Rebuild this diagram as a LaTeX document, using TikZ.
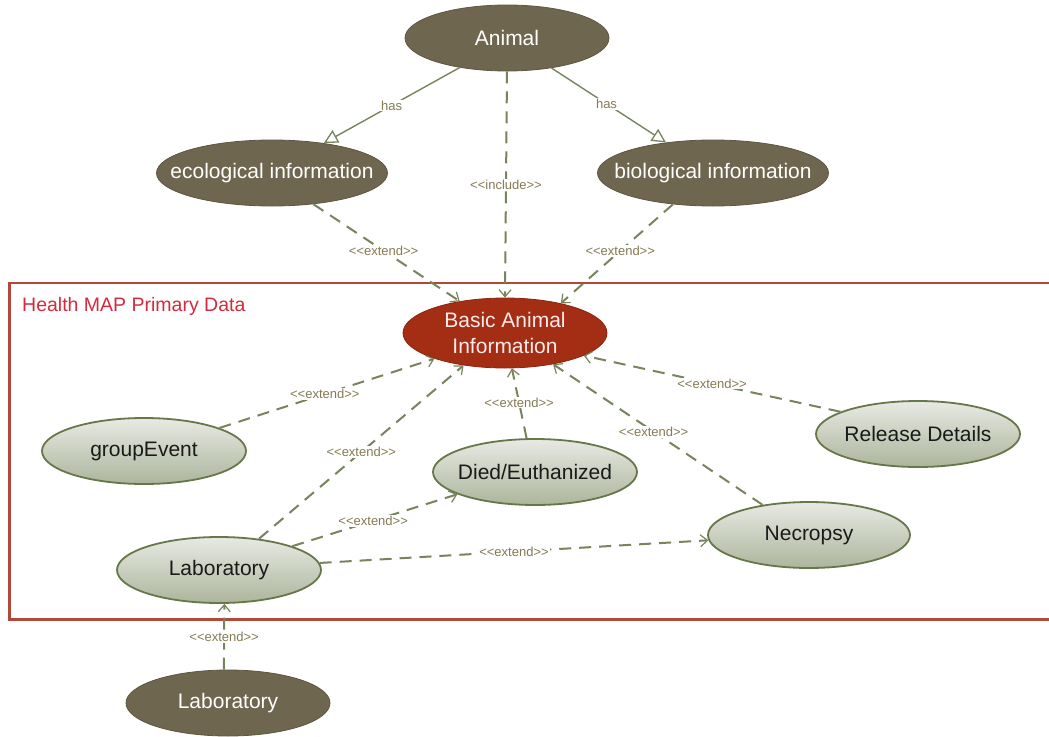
\documentclass[tikz,border=0pt]{standalone}
\usepackage{fontspec}
\setmainfont{Liberation Sans}
\usetikzlibrary{shapes.geometric,arrows.meta}
\definecolor{darkfill}{HTML}{6F6650}
\definecolor{darkline}{HTML}{5E5642}
\definecolor{redfill}{HTML}{A32E14}
\definecolor{redline}{HTML}{8C2510}
\definecolor{lighttop}{HTML}{E8EAE4}
\definecolor{lightbot}{HTML}{ACB59C}
\definecolor{lightline}{HTML}{66774A}
\definecolor{edgecol}{HTML}{76855C}
\definecolor{labelcol}{HTML}{857A52}
\definecolor{framecol}{HTML}{B2483A}
\definecolor{titlecol}{HTML}{D42A3C}
\definecolor{textdark}{HTML}{1A1A1A}
\newcommand{\stereo}[1]{{<}{<}#1{>}{>}}
% centred text that does not widen its ellipse
\newcommand{\uc}[1]{\makebox[0pt][c]{#1}}
\tikzset{
  usecase/.style={ellipse, minimum width=204pt, minimum height=66pt, inner sep=0pt,
    font=\fontsize{21}{26}\selectfont, align=center},
  darkcase/.style={usecase, fill=darkfill, draw=darkline, line width=0.8pt, text=white},
  redcase/.style={usecase, fill=redfill, draw=redline, line width=0.8pt, text=white!92!red,
    minimum height=70pt},
  lightcase/.style={usecase, top color=lighttop, bottom color=lightbot, draw=lightline,
    line width=1.8pt, text=textdark},
  rel/.style={draw=edgecol, line width=2pt},
  extendrel/.style={rel, dash pattern=on 12pt off 8pt, -{Straight Barb[length=7pt,width=12pt,line width=1.2pt]}},
  hasrel/.style={rel, line width=1.4pt, -{Triangle[open,length=14pt,width=14pt,line width=1.3pt,fill=white]}},
  lbl/.style={fill=white, inner sep=1pt, text=labelcol, font=\fontsize{13}{15}\selectfont},
}
\begin{document}
\begin{tikzpicture}[x=1pt,y=-1pt]
\useasboundingbox (0,0) rectangle (1049,736);
\fill[white] (0,0) rectangle (1049,736);

% package frame
\draw[framecol, line width=2.2pt] (1060,283) -- (9.5,283) -- (9.5,619.5) -- (1060,619.5);
\node[anchor=west, text=titlecol, font=\fontsize{19.5}{22}\selectfont, inner sep=0pt] (title) at (22,306) {Health MAP Primary Data};

% use cases
\node[darkcase] (animal) at (507,38) {\uc{Animal}};
\node[darkcase, minimum width=231pt] (eco) at (272,173) {\uc{ecological information}};
\node[darkcase, minimum width=231pt] (bio) at (713,173) {\uc{biological information}};
\node[redcase] (basic) at (505,333) {\uc{Basic Animal}\\\uc{Information}};
\node[lightcase] (group) at (144,451) {\uc{groupEvent}};
\node[lightcase] (died) at (535,472) {\uc{Died/Euthanized}};
\node[lightcase] (release) at (918,434) {\uc{Release Details}};
\node[lightcase] (lab) at (219,570) {\uc{Laboratory}};
\node[lightcase, minimum width=202pt] (necro) at (809,535) {\uc{Necropsy}};
\node[darkcase] (labext) at (228,703) {\uc{Laboratory}};

% generalisation
\draw[hasrel] (animal.212) -- node[lbl, pos=0.5] {has} (eco.30);
\draw[hasrel] (animal.326) -- node[lbl, pos=0.48] {has} (bio.147);

% include
\draw[extendrel] (animal.south) -- node[lbl, pos=0.5] {\stereo{include}} (basic.north);

% extend relations
\draw[extendrel] (eco.323) -- node[lbl, pos=0.48] {\stereo{extend}} (basic.145);
\draw[extendrel] (bio.218) -- node[lbl, pos=0.47] {\stereo{extend}} (basic.28);
\draw[extendrel] (group.17) -- node[lbl, pos=0.49] {\stereo{extend}} (basic.200);
\draw[extendrel] (lab.38) -- node[lbl, pos=0.5] {\stereo{extend}} (basic.218);
\draw[extendrel] (died.104) -- node[lbl, pos=0.51] {\stereo{extend}} (basic.281);
\draw[extendrel] (necro.147) -- node[lbl, pos=0.52] {\stereo{extend}} (basic.327);
\draw[extendrel] (release.164) -- node[lbl, pos=0.5] {\stereo{extend}} (basic.344);
\draw[extendrel] (lab.18) -- node[lbl, pos=0.49] {\stereo{extend}} (died.196);
\draw[extendrel] (lab.4) -- node[lbl, pos=0.5] {\stereo{extend}} (necro.183);
\draw[extendrel] (labext.97) -- node[lbl, pos=0.5] {\stereo{extend}} (lab.279);
\end{tikzpicture}
\end{document}
